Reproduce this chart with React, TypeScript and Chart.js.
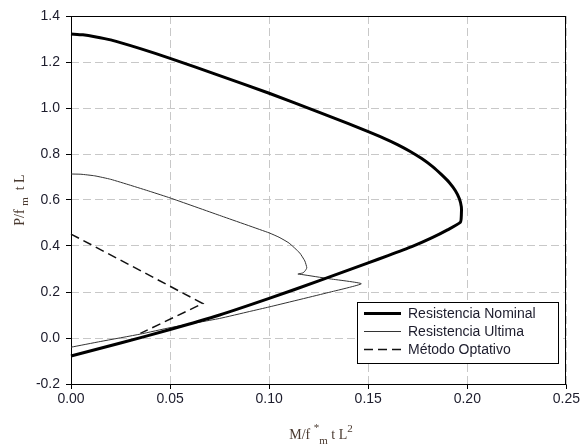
import React, { useEffect, useRef } from "react";
import { Chart, registerables } from "chart.js";
Chart.register(...registerables);

const xTickValues = [0, 0.05, 0.1, 0.15, 0.2, 0.25];
const yTickValues = [-0.2, 0, 0.2, 0.4, 0.6, 0.8, 1.0, 1.2, 1.4];

const seriesNames = ["Resistencia Nominal", "Resistencia Ultima", "Método Optativo"];

const nominalX = [0, 0.006, 0.012, 0.02, 0.035, 0.05, 0.075, 0.1, 0.125, 0.14, 0.15, 0.158, 0.165, 0.171, 0.177, 0.1825, 0.187, 0.191, 0.194, 0.196, 0.197, 0.197, 0.1965, 0.19, 0.182, 0.172, 0.16, 0.15, 0.125, 0.1, 0.075, 0.05, 0.025, 0];
const nominalY = [1.322, 1.318, 1.31, 1.296, 1.258, 1.216, 1.141, 1.064, 0.982, 0.932, 0.897, 0.868, 0.84, 0.812, 0.78, 0.745, 0.71, 0.675, 0.64, 0.605, 0.57, 0.535, 0.503, 0.47, 0.435, 0.397, 0.358, 0.327, 0.248, 0.172, 0.1, 0.037, -0.022, -0.078];

const ultimaX = [0, 0.005, 0.012, 0.02, 0.03, 0.04, 0.05, 0.075, 0.1, 0.105, 0.11, 0.1154, 0.118, 0.119, 0.118, 0.117, 0.1145, 0.1165, 0.13, 0.1465, 0.13, 0.1, 0.09, 0.075, 0.05, 0.035, 0.015, 0];
const ultimaY = [0.713, 0.712, 0.705, 0.69, 0.664, 0.637, 0.609, 0.533, 0.457, 0.438, 0.413, 0.37, 0.335, 0.305, 0.29, 0.283, 0.278, 0.276, 0.258, 0.236, 0.198, 0.135, 0.115, 0.085, 0.045, 0.017, -0.015, -0.04];

const optativoX = [0, 0.0665, 0.035];
const optativoY = [0.452, 0.15, 0.02];

const toPts = (xs: number[], ys: number[]) => xs.map((x, i) => ({ x, y: ys[i] }));

const TICK_COLOR = "#1c1c2c";
const TITLE_COLOR = "#4a3a30";

type Seg = { t: string; size: number; dy: number };

function drawRich(ctx: CanvasRenderingContext2D, segs: Seg[], cx: number, cy: number, rotate: boolean) {
  ctx.save();
  ctx.translate(cx, cy);
  if (rotate) ctx.rotate(-Math.PI / 2);
  ctx.fillStyle = TITLE_COLOR;
  ctx.textBaseline = "alphabetic";
  ctx.textAlign = "left";
  let total = 0;
  for (const s of segs) {
    ctx.font = `${s.size}px "Liberation Serif", "DejaVu Serif", serif`;
    total += ctx.measureText(s.t).width;
  }
  let x = -total / 2;
  for (const s of segs) {
    ctx.font = `${s.size}px "Liberation Serif", "DejaVu Serif", serif`;
    ctx.fillText(s.t, x, s.dy);
    x += ctx.measureText(s.t).width;
  }
  ctx.restore();
}

const decorPlugin = {
  id: "decor",
  beforeDatasetsDraw(chart: any) {
    const { ctx, chartArea: a } = chart;
    ctx.save();
    ctx.strokeStyle = "#000";
    ctx.lineWidth = 1;
    ctx.setLineDash([]);
    ctx.strokeRect(Math.round(a.left) + 0.5, Math.round(a.top) + 0.5, Math.round(a.right - a.left) - 1, Math.round(a.bottom - a.top));
    ctx.restore();
  },
  afterDraw(chart: any) {
    const { ctx } = chart;
    ctx.save();
    const bx = 357.5, by = 302.5, bw = 201, bh = 61;
    ctx.fillStyle = "#fff";
    ctx.fillRect(bx, by, bw, bh);
    ctx.strokeStyle = "#000";
    ctx.lineWidth = 1;
    ctx.setLineDash([]);
    ctx.strokeRect(bx, by, bw, bh);
    const rows = [313.5, 331.5, 349.5];
    chart.data.datasets.forEach((ds: any, i: number) => {
      ctx.save();
      ctx.strokeStyle = ds.borderColor;
      ctx.lineWidth = ds.borderWidth;
      ctx.setLineDash(ds.borderDash || []);
      ctx.beginPath();
      ctx.moveTo(364, rows[i]);
      ctx.lineTo(401, rows[i]);
      ctx.stroke();
      ctx.restore();
      ctx.fillStyle = TICK_COLOR;
      ctx.font = '14px "Liberation Sans", Arial, sans-serif';
      ctx.textBaseline = "middle";
      ctx.textAlign = "left";
      ctx.fillText(ds.label, 408, rows[i] + 1);
    });
    ctx.restore();
    drawRich(ctx, [
      { t: "P/f ", size: 14, dy: 0 },
      { t: "m", size: 11, dy: 4 },
      { t: "  t L", size: 14, dy: 0 },
    ], 24, 200, true);
    drawRich(ctx, [
      { t: "M/f ", size: 14, dy: 0 },
      { t: "*", size: 11, dy: -8 },
      { t: "m", size: 11, dy: 5 },
      { t: " t L", size: 14, dy: 0 },
      { t: "2", size: 11, dy: -7 },
    ], 321, 439, false);
  },
};

export default function App() {
  const ref = useRef<HTMLCanvasElement | null>(null);
  useEffect(() => {
    if (!ref.current) return;
    const tickFont = { family: '"Liberation Sans", Arial, sans-serif', size: 14 };
    const chart = new Chart(ref.current, {
      type: "scatter",
      data: {
        datasets: [
          {
            label: seriesNames[0],
            data: toPts(nominalX, nominalY),
            showLine: true,
            borderColor: "#000",
            borderWidth: 3,
            pointRadius: 0,
            tension: 0.2,
            clip: false,
            borderJoinStyle: "round",
          } as any,
          {
            label: seriesNames[1],
            data: toPts(ultimaX, ultimaY),
            showLine: true,
            borderColor: "#333",
            borderWidth: 1,
            pointRadius: 0,
            tension: 0.15,
            clip: false,
          } as any,
          {
            label: seriesNames[2],
            data: toPts(optativoX, optativoY),
            showLine: true,
            borderColor: "#111",
            borderWidth: 1.5,
            borderDash: [9, 5],
            pointRadius: 0,
            tension: 0,
            clip: false,
          } as any,
        ],
      },
      options: {
        animation: false,
        responsive: false,
        maintainAspectRatio: false,
        layout: { padding: { left: 0, right: 15, top: 16, bottom: 0 } },
        plugins: { legend: { display: false }, tooltip: { enabled: false } },
        scales: {
          x: {
            type: "linear",
            min: 0,
            max: 0.25,
            afterBuildTicks: (s: any) => {
              s.ticks = xTickValues.map((v) => ({ value: v }));
            },
            afterFit: (s: any) => {
              s.height = 62;
            },
            ticks: {
              callback: (v: any) => Number(v).toFixed(2),
              font: tickFont,
              color: TICK_COLOR,
              padding: 2,
              maxRotation: 0,
              autoSkip: false,
            },
            grid: { color: "#c8c8c8", lineWidth: 1, tickLength: 5, tickColor: "#000", tickWidth: 1 },
            border: { display: false, dash: [8, 4] },
          },
          y: {
            type: "linear",
            min: -0.2,
            max: 1.4,
            afterBuildTicks: (s: any) => {
              s.ticks = yTickValues.map((v) => ({ value: v }));
            },
            afterFit: (s: any) => {
              s.width = 71;
            },
            ticks: {
              callback: (v: any) => Number(v).toFixed(1),
              font: tickFont,
              color: TICK_COLOR,
              padding: 6,
              autoSkip: false,
            },
            grid: { color: "#c8c8c8", lineWidth: 1, tickLength: 5, tickColor: "#000", tickWidth: 1 },
            border: { display: false, dash: [8, 4] },
          },
        },
      },
      plugins: [decorPlugin],
    } as any);
    return () => chart.destroy();
  }, []);
  return (
    <div style={{ position: "fixed", left: 0, top: 0, width: 582, height: 446, background: "#fff" }}>
      <canvas ref={ref} width={582} height={446} style={{ display: "block", width: 582, height: 446 }} />
    </div>
  );
}
